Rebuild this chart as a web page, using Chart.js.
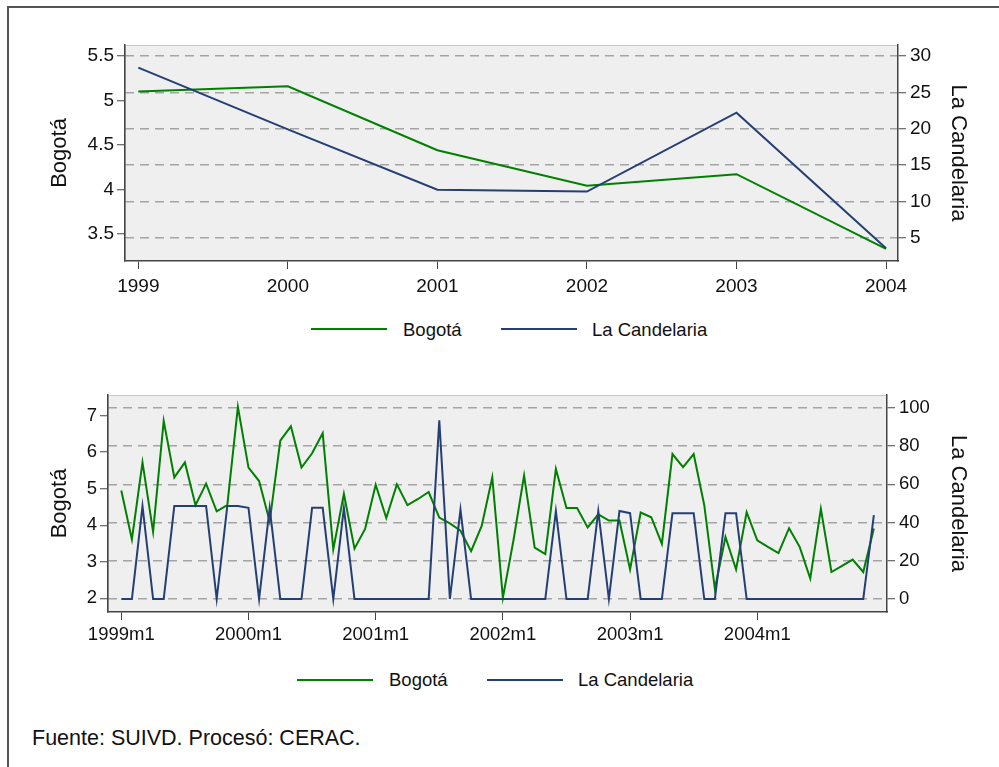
<!DOCTYPE html>
<html>
<head>
<meta charset="utf-8">
<script src="https://cdn.jsdelivr.net/npm/chart.js@4.4.1/dist/chart.umd.min.js"></script>
<style>
  body { margin: 0; width: 999px; height: 767px; overflow: hidden; background: #fff; position: relative;
         font-family: "Liberation Sans", Arial, sans-serif; color: #111; }
  .frame { position: absolute; left: 7px; top: 6px; width: 1200px; height: 1000px;
           border-top: 2px solid #555; border-left: 2px solid #555; pointer-events: none; }
  canvas { position: absolute; left: 0; }
  .key { position: absolute; width: 76px; height: 2px; }
  .keytxt { position: absolute; font-size: 18.5px; line-height: 1; white-space: nowrap; }
  .note { position: absolute; left: 32px; top: 728px; font-size: 21.5px; line-height: 1; white-space: nowrap; }
</style>
</head>
<body>
<canvas id="anual" width="999" height="300" style="top:0"></canvas>
<canvas id="mensual" width="999" height="310" style="top:340px"></canvas>

<div class="key" style="left:311px; top:328px; background:#008000"></div>
<div class="keytxt" style="left:403px; top:321px">Bogotá</div>
<div class="key" style="left:501px; top:328px; background:#243f74"></div>
<div class="keytxt" style="left:592px; top:321px">La Candelaria</div>

<div class="key" style="left:297px; top:679px; background:#008000"></div>
<div class="keytxt" style="left:389px; top:671px">Bogotá</div>
<div class="key" style="left:487px; top:679px; background:#243f74"></div>
<div class="keytxt" style="left:578px; top:671px">La Candelaria</div>

<div class="note">Fuente: SUIVD. Procesó: CERAC.</div>
<div class="frame"></div>

<script>
// annual series
const years = [1999, 2000, 2001, 2002, 2003, 2004];
const bogotaYear = [5.10, 5.16, 4.44, 4.04, 4.17, 3.33];
const candelariaYear = [28.4, 19.9, 11.6, 11.35, 22.2, 3.55];

// monthly series, 1999m1 .. 2004m12
const bogotaMonth = [
    4.95, 3.61, 5.72, 3.82, 6.86, 5.31, 5.72, 4.55, 5.14, 4.38, 4.55, 7.24,
    5.58, 5.21, 4.10, 6.32, 6.71, 5.58, 5.97, 6.52, 3.34, 4.86, 3.36, 3.90,
    5.11, 4.20, 5.12, 4.55, 4.72, 4.91, 4.21, 4.05, 3.85, 3.29, 3.98, 5.31,
    2.02, 3.59, 5.36, 3.39, 3.21, 5.54, 4.47, 4.47, 3.94, 4.30, 4.13, 4.13,
    2.79, 4.35, 4.22, 3.49, 5.95, 5.59, 5.95, 4.55, 2.26, 3.68, 2.79, 4.36,
    3.59, 3.41, 3.24, 3.92, 3.41, 2.54, 4.45, 2.72, 2.89, 3.06, 2.72, 3.91
];
const candelariaMonth = [
    0, 0, 48.6, 0, 0, 48.6, 48.6, 48.6, 48.6, 0, 48.6, 48.6,
    47.7, 0, 47.7, 0, 0, 0, 47.7, 47.7, 0, 47.7, 0, 0,
    0, 0, 0, 0, 0, 0, 93.5, 0, 46.8, 0, 0, 0,
    0, 0, 0, 0, 0, 46, 0, 0, 0, 46, 0, 46,
    44.9, 0, 0, 0, 44.9, 44.9, 44.9, 0, 0, 44.9, 44.9, 0,
    0, 0, 0, 0, 0, 0, 0, 0, 0, 0, 0, 43.9
];

// axis ticks
const topLeftTicks = [3.5, 4, 4.5, 5, 5.5];
const topRightTicks = [5, 10, 15, 20, 25, 30];
const bottomLeftTicks = [2, 3, 4, 5, 6, 7];
const bottomRightTicks = [0, 20, 40, 60, 80, 100];
const monthTicks = [0, 12, 24, 36, 48, 60];
const monthTickLabels = ['1999m1', '2000m1', '2001m1', '2002m1', '2003m1', '2004m1'];

const GREEN = '#008000';
const NAVY = '#243f74';
const AXIS = '#444';
const FONT = '"Liberation Sans", Arial, sans-serif';

// grey plot region like the stata scheme
const plotBackground = {
    id: 'plotBackground',
    beforeDraw(chart) {
        const { ctx, chartArea: a } = chart;
        ctx.save();
        ctx.fillStyle = '#efefef';
        ctx.fillRect(a.left, a.top, a.right - a.left, a.bottom - a.top);
        ctx.strokeStyle = '#c8c8c8';
        ctx.lineWidth = 1;
        ctx.strokeRect(a.left + 0.5, a.top + 0.5, a.right - a.left - 1, a.bottom - a.top - 1);
        ctx.restore();
    }
};

function fixedTicks(values) {
    return scale => { scale.ticks = values.map(v => ({ value: v })); };
}

function yAxis(side, range, ticks, size, label, fontSize, width, gridOn) {
    return {
        type: 'linear',
        position: side,
        min: range[0],
        max: range[1],
        afterBuildTicks: fixedTicks(ticks),
        afterFit: scale => { scale.width = width; },
        ticks: { font: { family: FONT, size: size }, color: '#111', padding: side === 'left' ? 3 : 4, callback: v => String(v) },
        grid: {
            drawOnChartArea: gridOn, color: '#a4a4a4', lineWidth: 1.5,
            tickLength: 8, tickColor: AXIS, tickWidth: 1, tickBorderDash: []
        },
        border: { color: AXIS, width: 1.5, dash: gridOn ? [9, 6] : [] },
        title: {
            display: true, text: label, color: '#111',
            font: { family: FONT, size: 22 },
            padding: { top: side === 'left' ? 46.8 : 27.8, bottom: 0 }
        }
    };
}

function xAxis(range, ticks, labelFor, size, height, pad) {
    return {
        type: 'linear',
        position: 'bottom',
        min: range[0],
        max: range[1],
        afterBuildTicks: fixedTicks(ticks),
        afterFit: scale => { scale.height = height; },
        ticks: { font: { family: FONT, size: size }, color: '#111', padding: pad, maxRotation: 0, autoSkip: false, callback: labelFor },
        grid: { drawOnChartArea: false, tickLength: 8, tickColor: AXIS, tickWidth: 1 },
        border: { color: AXIS, width: 1.5 }
    };
}

function lineSet(label, points, color, axis, order) {
    return { label: label, data: points, borderColor: color, borderWidth: 2, pointRadius: 0, tension: 0, yAxisID: axis, order: order };
}

// top: yearly
new Chart(document.getElementById('anual'), {
    type: 'line',
    data: {
        datasets: [
            lineSet('Bogotá', years.map((y, i) => ({ x: y, y: bogotaYear[i] })), GREEN, 'y', 1),
            lineSet('La Candelaria', years.map((y, i) => ({ x: y, y: candelariaYear[i] })), NAVY, 'y1', 0)
        ]
    },
    options: {
        responsive: false,
        animation: false,
        layout: { padding: { top: 45, left: 0, right: 0, bottom: 0 } },
        plugins: { legend: { display: false }, tooltip: { enabled: false } },
        scales: {
            x: xAxis([1998.911, 2004.08], years, v => String(v), 19, 39, 6),
            y: yAxis('left', [3.193, 5.624], topLeftTicks, 19, 'Bogotá', 22, 125, false),
            y1: yAxis('right', [1.79, 31.51], topRightTicks, 19, 'La Candelaria', 22, 101, true)
        }
    },
    plugins: [plotBackground]
});

// bottom: monthly
new Chart(document.getElementById('mensual'), {
    type: 'line',
    data: {
        datasets: [
            lineSet('Bogotá', bogotaMonth.map((v, i) => ({ x: i, y: v })), GREEN, 'y', 1),
            lineSet('La Candelaria', candelariaMonth.map((v, i) => ({ x: i, y: v })), NAVY, 'y1', 0)
        ]
    },
    options: {
        responsive: false,
        animation: false,
        layout: { padding: { top: 55, left: 0, right: 0, bottom: 0 } },
        plugins: { legend: { display: false }, tooltip: { enabled: false } },
        scales: {
            x: xAxis([-1.255, 72.24], monthTicks, v => monthTickLabels[monthTicks.indexOf(v)], 18.5, 38, 4),
            y: yAxis('left', [1.625, 7.567], bottomLeftTicks, 18.5, 'Bogotá', 22, 108, false),
            y1: yAxis('right', [-6.8, 106.7], bottomRightTicks, 18.5, 'La Candelaria', 22, 112, true)
        }
    },
    plugins: [plotBackground]
});
</script>
</body>
</html>
